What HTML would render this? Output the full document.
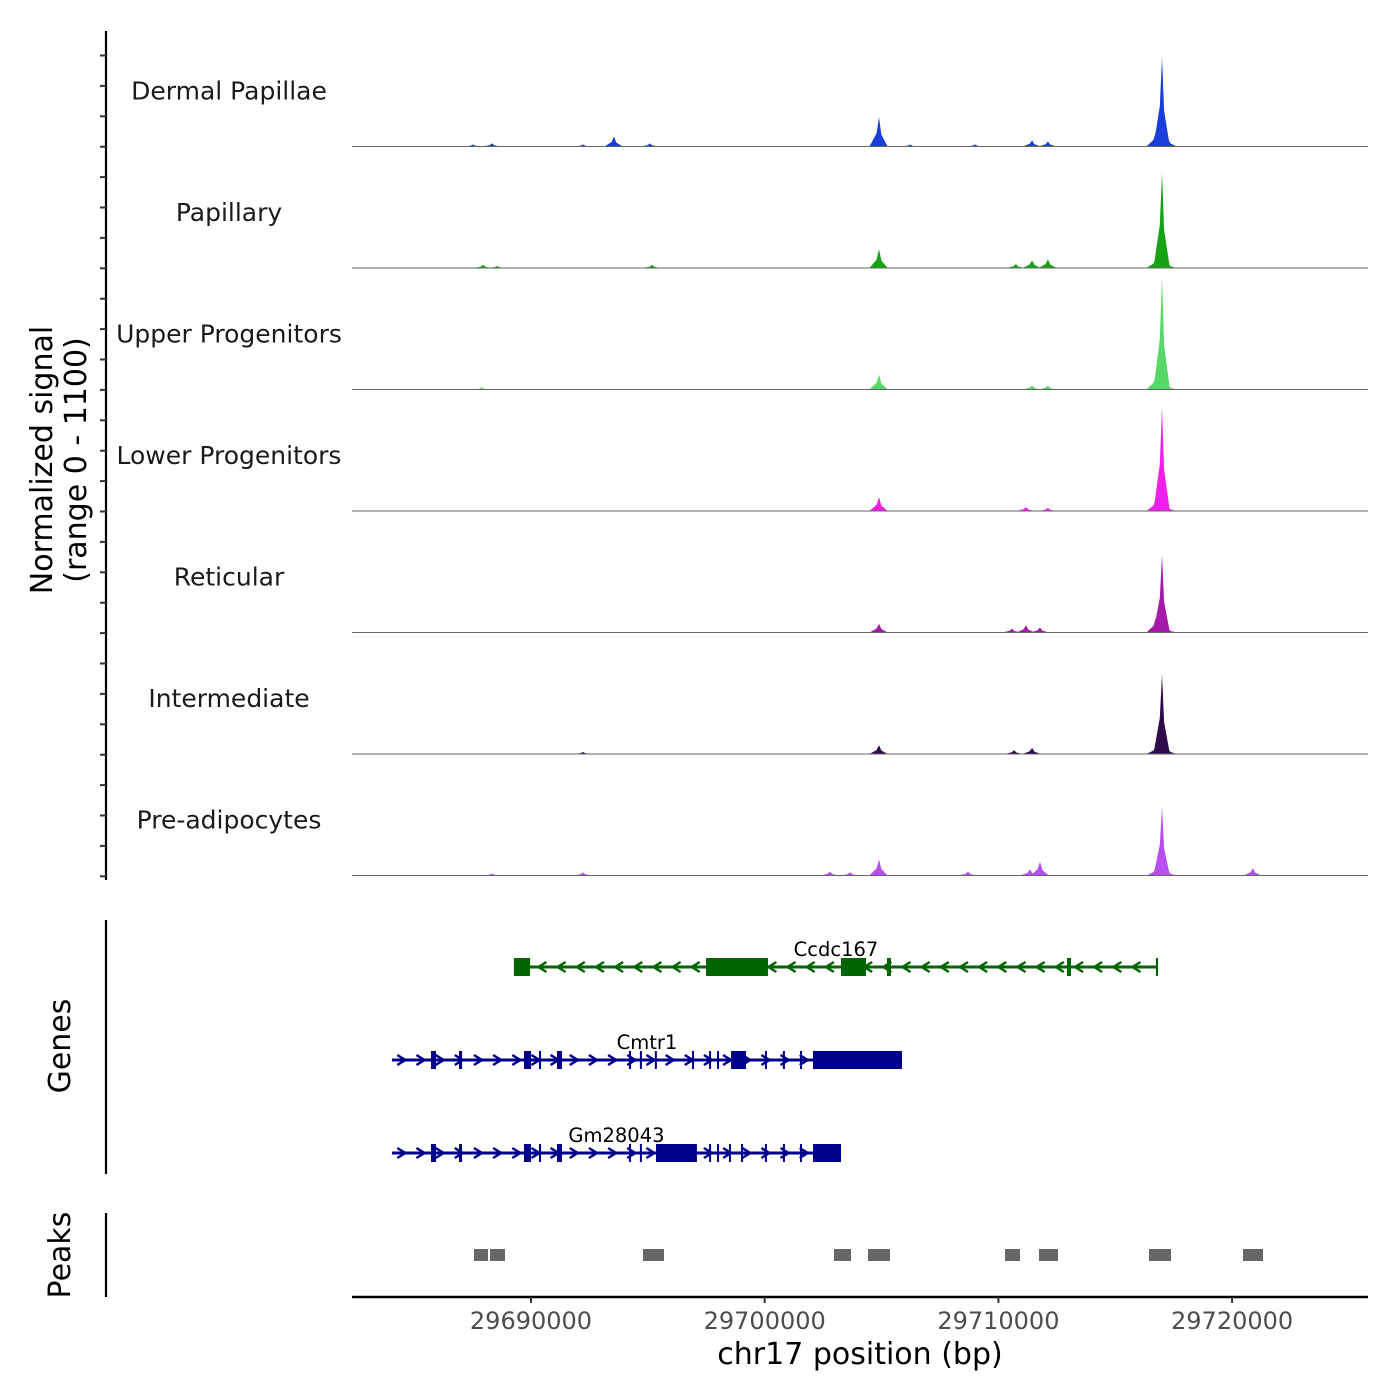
<!DOCTYPE html>
<html><head><meta charset="utf-8">
<style>
html,body{margin:0;padding:0;background:#fff;}
svg{display:block;font-family:"DejaVu Sans","Liberation Sans",sans-serif;}
</style></head>
<body>
<svg id="chart" width="1400" height="1400" viewBox="0 0 1400 1400" xmlns="http://www.w3.org/2000/svg"></svg>
<script>
// ---- data ----
const trackNames = ["Dermal Papillae","Papillary","Upper Progenitors","Lower Progenitors","Reticular","Intermediate","Pre-adipocytes"];
const trackColors = ["#1a3fd9","#15a315","#55d865","#ef1ee8","#a51aa8","#2e0b4d","#b64ef2"];
// peaks per track: positions (bp) and signal values (0-1100)
const dpPos = [29717000,29716740,29717260,29704890,29693550,29711440,29712120,29687520,29688330,29695090,29692225,29706220,29709000];
const dpVal = [810,135,70,265,90,55,45,18,28,28,18,18,18];
const papPos = [29717000,29716740,29717260,29704890,29711440,29712120,29710750,29687950,29688545,29695180];
const papVal = [865,90,40,170,70,80,35,28,18,28];
const upPos = [29717000,29716740,29717260,29704890,29712120,29711440,29687900];
const upVal = [1010,135,40,135,35,35,18];
const lowPos = [29717000,29716740,29717260,29704890,29711180,29712120];
const lowVal = [935,110,35,125,35,28];
const retPos = [29717000,29716740,29717260,29704890,29711180,29711780,29710580];
const retVal = [700,135,35,80,65,45,35];
const intPos = [29717000,29716740,29717260,29704890,29710670,29711440,29692225];
const intVal = [725,70,45,80,35,55,18];
const prePos = [29717000,29716740,29717260,29704890,29711780,29720890,29711350,29702790,29708700,29692225,29703650,29688330];
const preVal = [620,70,40,145,125,65,55,35,35,28,28,18];
const trackPos = [dpPos,papPos,upPos,lowPos,retPos,intPos,prePos];
const trackVal = [dpVal,papVal,upVal,lowVal,retVal,intVal,preVal];

const geneNames = ["Ccdc167","Cmtr1","Gm28043"];
const geneStrand = [-1,1,1];
const geneStart = [29689270,29684050,29684050];
const geneEnd = [29716830,29705875,29703265];
const geneColors = ["#006400","#00008b","#00008b"];
const geneExons = [
  [[29689270,29689960],[29697490,29700140],[29703265,29704335],[29705233,29705404],[29712935,29713107],[29716740,29716830]],
  [[29685720,29685935],[29686920,29687050],[29689700,29690000],[29690342,29690430],[29691113,29691326],[29694193,29694280],[29694660,29694720],[29695300,29695360],[29696890,29696950],[29697620,29697680],[29697960,29698020],[29698560,29699200],[29700010,29700070],[29700780,29700840],[29701510,29701570],[29702067,29705875]],
  [[29685720,29685935],[29686920,29687050],[29689700,29690000],[29690342,29690430],[29691113,29691326],[29694193,29694280],[29694660,29694720],[29695350,29697100],[29697620,29697680],[29697960,29698020],[29698470,29698530],[29698986,29699046],[29700010,29700070],[29700780,29700840],[29701510,29701570],[29702067,29703265]]
];
const peakStart = [29687561,29688246,29694792,29702965,29704420,29710283,29711737,29716444,29720467];
const peakEnd = [29688160,29688887,29695691,29703693,29705362,29710924,29712550,29717386,29721322];
const xTicks = [29690000,29700000,29710000,29720000];

// ---- scales ----
const X0 = 352, X1 = 1368, D0 = 29682341, D1 = 29725815;
function xs(p){ return X0 + (p - D0) / (D1 - D0) * (X1 - X0); }
const trackTop = 25, trackH = 121.5, YMAX = 1100;
function ys(v, i){ const base = trackTop + (i+1)*trackH; return base - v / YMAX * trackH; }

const svg = document.getElementById('chart');
const NS = 'http://www.w3.org/2000/svg';
function mk(tag, attrs, parent){ const e = document.createElementNS(NS, tag); for (const k in attrs) e.setAttribute(k, attrs[k]); (parent||svg).appendChild(e); return e; }

// ---- tracks ----
const HW = 170;
trackNames.forEach((name, i) => {
  const g = mk('g', {});
  
  
  const base = ys(0, i);
  trackPos[i].forEach((p, j) => {
    const v = trackVal[i][j];
    const w = v > 500 ? HW*0.9 : HW;
    const pts = [[xs(p - w*2.4), base],[xs(p - w*0.6), ys(v*0.45,i)],[xs(p), ys(v,i)],[xs(p + w*0.6), ys(v*0.4,i)],[xs(p + w*2.2), base]];
    const poly = mk('polygon', {points: pts.map(q=>q[0].toFixed(1)+','+q[1].toFixed(1)).join(' '), fill: trackColors[i]}, g);
    
    
  });
  const bl = mk('line', {x1:X0, x2:X1, y1:base, y2:base, stroke:'#666', 'stroke-width':1}, g);
  
  
  const lb = mk('text', {x:229, y: base - 47, 'text-anchor':'middle', 'font-size':25, fill:'#1a1a1a'}, g);
  lb.textContent = name;
  
  
});

// left y axis
const ya = mk('line', {x1:106, x2:106, y1:31, y2:880, stroke:'#000', 'stroke-width':2.2});


for (let y = 55.5; y < 880; y += 30.4) {
  const t = mk('line', {x1:100, x2:106, y1:y, y2:y, stroke:'#333', 'stroke-width':2});
  
  
}
const yt = mk('text', {transform:'translate(52,460) rotate(-90)', 'text-anchor':'middle', 'font-size':30, fill:'#000'});


yt.innerHTML = '<tspan x="0" dy="0">Normalized signal</tspan><tspan x="0" dy="34">(range 0 - 1100)</tspan>';

// ---- genes ----
const geneY = [967, 1060, 1153];
geneNames.forEach((name, i) => {
  const g = mk('g', {});
  
  
  const y = geneY[i], c = geneColors[i];
  mk('line', {x1:xs(geneStart[i]), x2:xs(geneEnd[i]), y1:y, y2:y, stroke:c, 'stroke-width':3}, g);
  for (let p = geneStart[i] + 400; p < geneEnd[i] - 200; p += 820) {
    const x = xs(p), d = geneStrand[i]*4;
    const ch = mk('polyline', {points:`${x-d},${y-5} ${x+d},${y} ${x-d},${y+5}`, fill:'none', stroke:c, 'stroke-width':2.5}, g);
    
    
  }
  geneExons[i].forEach(e => {
    const x = xs(e[0]), w = Math.max(2, xs(e[1]) - xs(e[0]));
    const r = mk('rect', {x:x, y:y-9, width:w, height:18, fill:c}, g);
    
    
  });
  const t = mk('text', {x:(xs(geneStart[i])+xs(geneEnd[i]))/2, y:y-11, 'text-anchor':'middle', 'font-size':19.5, fill:'#000'}, g);
  t.textContent = name;
  
  
});
const ga = mk('line', {x1:106, x2:106, y1:920, y2:1174, stroke:'#000', 'stroke-width':2.2});


const gt = mk('text', {transform:'translate(70,1046) rotate(-90)', 'text-anchor':'middle', 'font-size':30, fill:'#000'});
gt.textContent = 'Genes';



// ---- peaks ----
peakStart.forEach((s, i) => {
  const r = mk('rect', {x:xs(s), y:1249, width:xs(peakEnd[i])-xs(s), height:12, fill:'#666'});
  
  
});
const pa = mk('line', {x1:106, x2:106, y1:1213, y2:1297, stroke:'#000', 'stroke-width':2.2});


const pt = mk('text', {transform:'translate(70,1255) rotate(-90)', 'text-anchor':'middle', 'font-size':30, fill:'#000'});
pt.textContent = 'Peaks';



// ---- x axis ----
const xa = mk('line', {x1:X0, x2:X1, y1:1297, y2:1297, stroke:'#000', 'stroke-width':2.5});


xTicks.forEach(p => {
  const t = mk('line', {x1:xs(p), x2:xs(p), y1:1297, y2:1303, stroke:'#333', 'stroke-width':2});
  
  
  const l = mk('text', {x:xs(p), y:1329, 'text-anchor':'middle', 'font-size':24, fill:'#4d4d4d'});
  l.textContent = String(p);
  
  
});
const xt = mk('text', {x:860, y:1364, 'text-anchor':'middle', 'font-size':30, fill:'#000'});
xt.textContent = 'chr17 position (bp)';


</script>
</body></html>
